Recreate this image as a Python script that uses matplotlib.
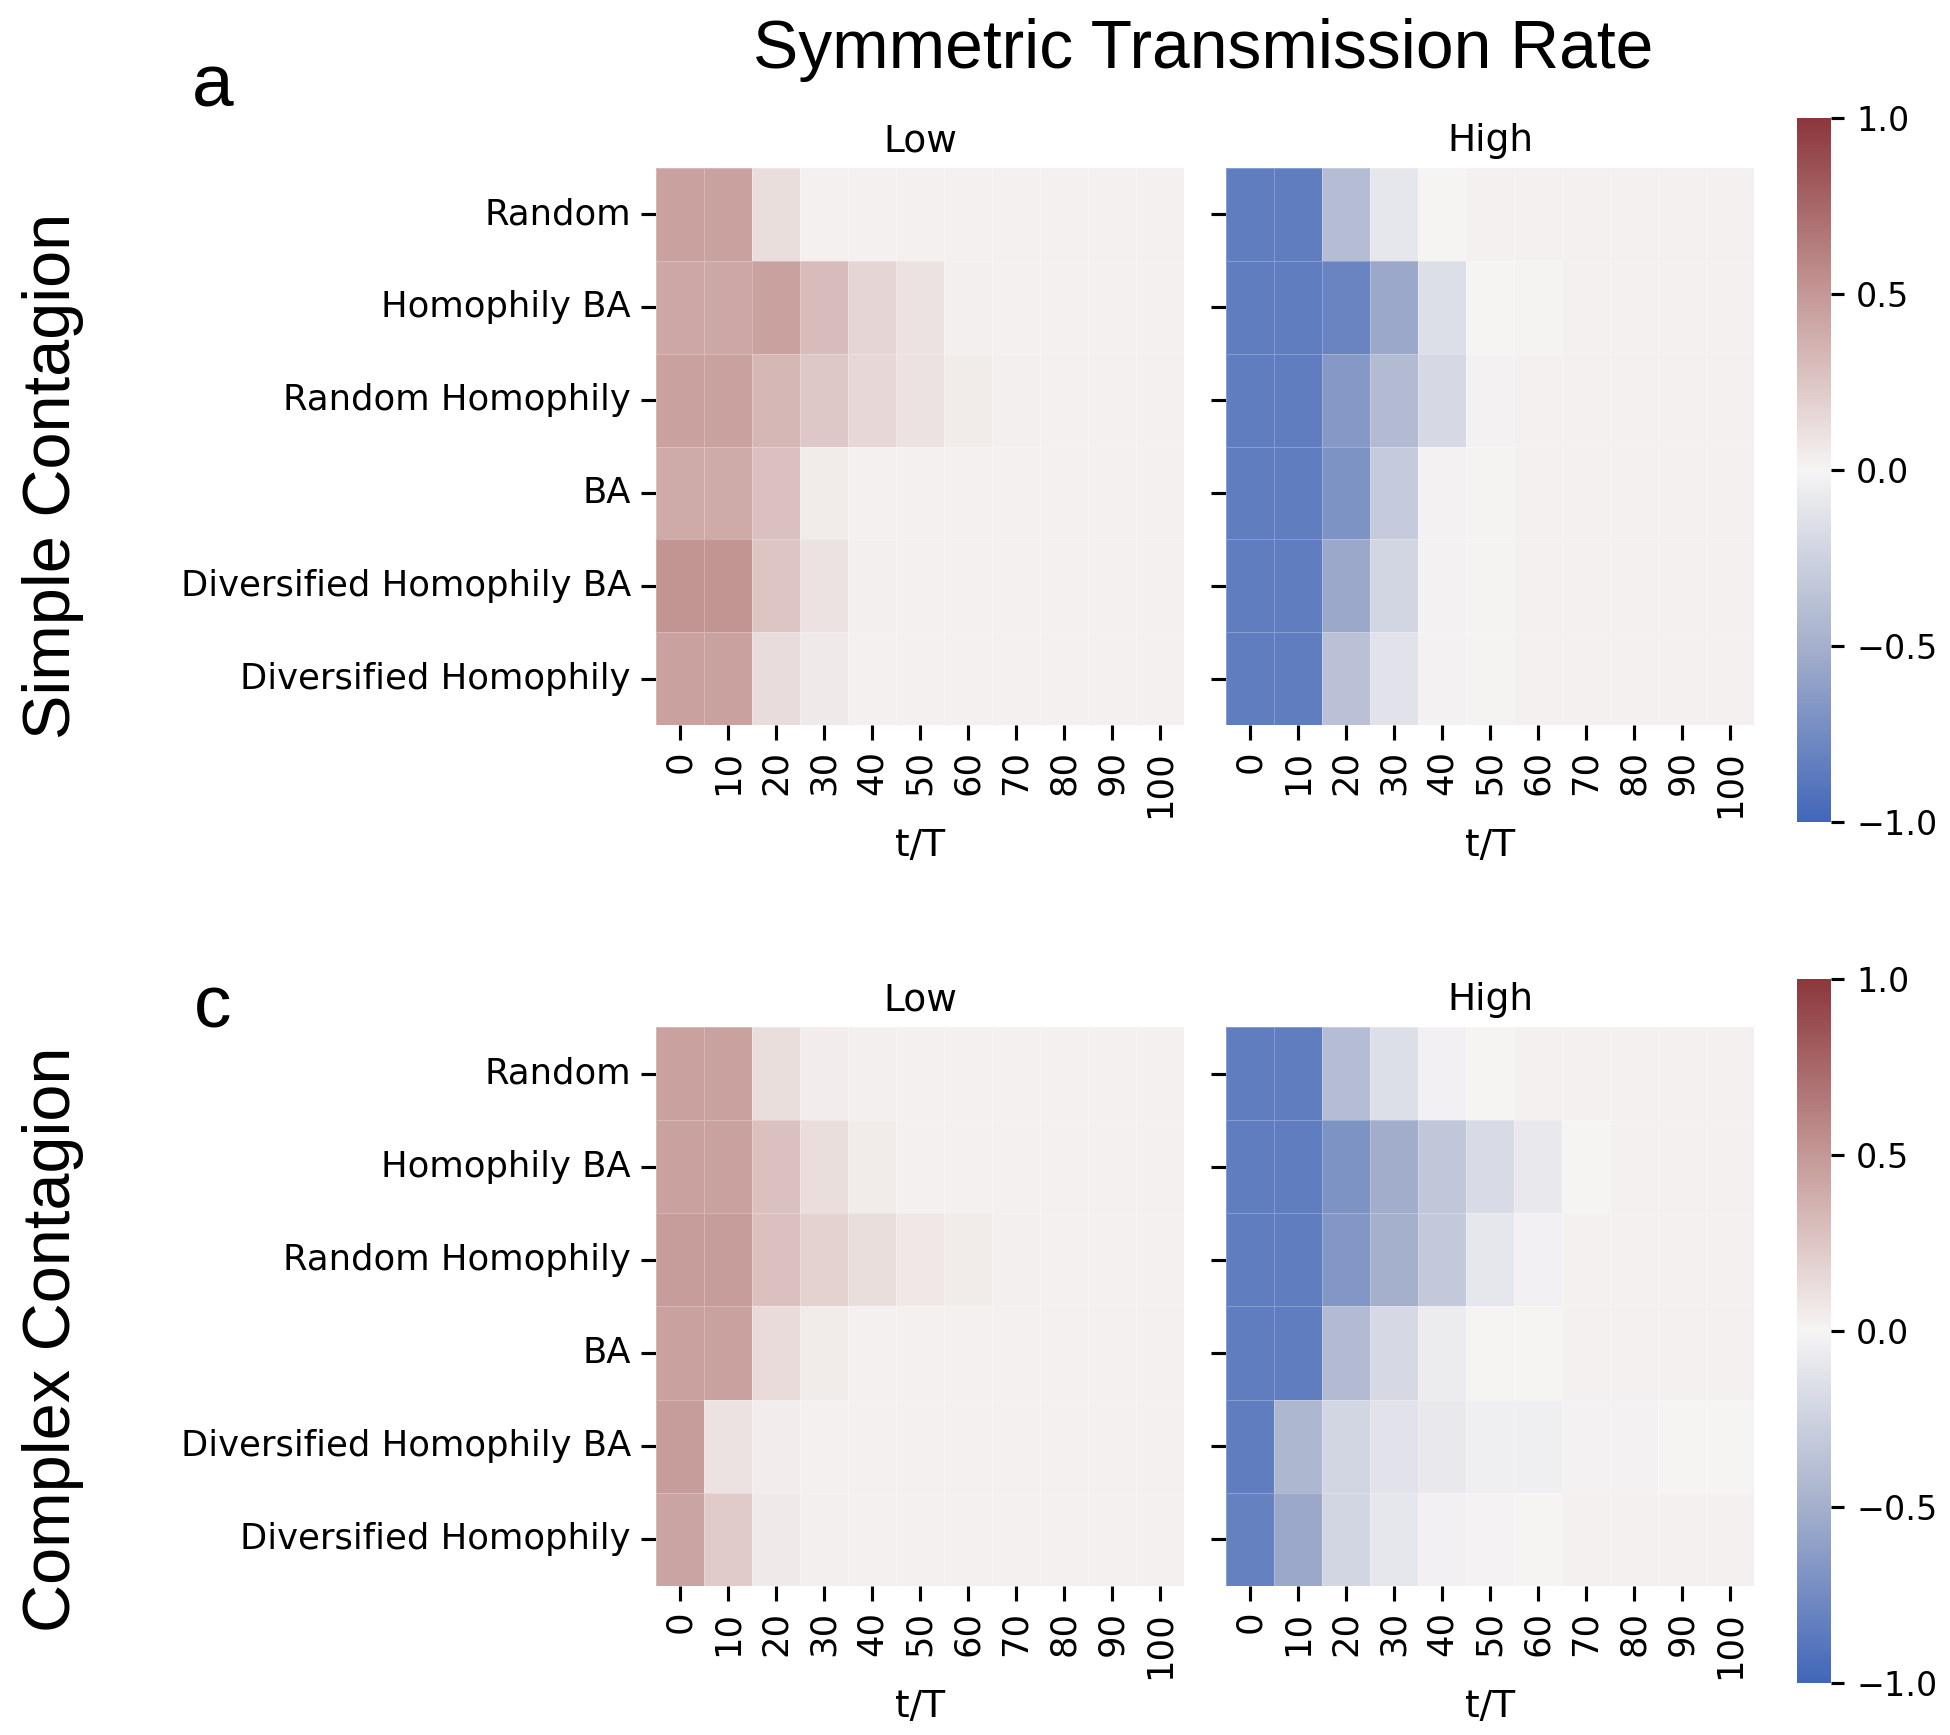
import numpy as np
import matplotlib
matplotlib.use("Agg")
import matplotlib.pyplot as plt
import seaborn as sns
from matplotlib.colors import LinearSegmentedColormap

sns.set_theme(style="ticks", font_scale=1.5)
plt.rcParams['font.family'] = ['DejaVu Sans']
plt.rcParams['text.color'] = 'black'
plt.rcParams['axes.labelcolor'] = 'black'
plt.rcParams['xtick.color'] = 'black'
plt.rcParams['ytick.color'] = 'black'

networks = ["Random", "Homophily BA", "Random Homophily", "BA",
            "Diversified Homophily BA", "Diversified Homophily"]
time_steps = ["0", "10", "20", "30", "40", "50", "60", "70", "80", "90", "100"]

# simple contagion
simple_low = [
    [0.45, 0.45, 0.12, 0.02, 0.02, 0.02, 0.02, 0.02, 0.02, 0.02, 0.02],
    [0.42, 0.42, 0.45, 0.30, 0.17, 0.10, 0.03, 0.02, 0.02, 0.02, 0.02],
    [0.45, 0.45, 0.33, 0.24, 0.15, 0.10, 0.05, 0.03, 0.02, 0.02, 0.02],
    [0.40, 0.40, 0.28, 0.05, 0.02, 0.02, 0.02, 0.02, 0.02, 0.02, 0.02],
    [0.52, 0.52, 0.25, 0.10, 0.03, 0.02, 0.02, 0.02, 0.02, 0.02, 0.02],
    [0.45, 0.45, 0.13, 0.06, 0.02, 0.02, 0.02, 0.02, 0.02, 0.02, 0.02],
]
simple_high = [
    [-0.85, -0.85, -0.40, -0.10, 0.00, 0.02, 0.02, 0.02, 0.02, 0.02, 0.02],
    [-0.85, -0.85, -0.80, -0.55, -0.15, 0.00, 0.01, 0.02, 0.02, 0.02, 0.02],
    [-0.85, -0.85, -0.65, -0.42, -0.20, -0.02, 0.02, 0.02, 0.02, 0.02, 0.02],
    [-0.85, -0.85, -0.70, -0.30, -0.02, 0.01, 0.02, 0.02, 0.02, 0.02, 0.02],
    [-0.85, -0.85, -0.55, -0.22, -0.02, 0.01, 0.02, 0.02, 0.02, 0.02, 0.02],
    [-0.85, -0.85, -0.37, -0.12, -0.02, 0.01, 0.02, 0.02, 0.02, 0.02, 0.02],
]

# complex contagion
complex_low = [
    [0.45, 0.45, 0.12, 0.04, 0.03, 0.02, 0.02, 0.02, 0.02, 0.02, 0.02],
    [0.45, 0.45, 0.28, 0.12, 0.05, 0.02, 0.02, 0.02, 0.02, 0.02, 0.02],
    [0.47, 0.47, 0.28, 0.18, 0.12, 0.07, 0.05, 0.03, 0.02, 0.02, 0.02],
    [0.45, 0.45, 0.14, 0.05, 0.02, 0.02, 0.02, 0.02, 0.02, 0.02, 0.02],
    [0.47, 0.10, 0.04, 0.02, 0.02, 0.02, 0.02, 0.02, 0.02, 0.02, 0.02],
    [0.43, 0.22, 0.06, 0.03, 0.02, 0.02, 0.02, 0.02, 0.02, 0.02, 0.02],
]
complex_high = [
    [-0.85, -0.85, -0.40, -0.15, -0.03, 0.00, 0.02, 0.02, 0.02, 0.02, 0.02],
    [-0.85, -0.85, -0.70, -0.52, -0.33, -0.18, -0.08, 0.00, 0.02, 0.02, 0.02],
    [-0.85, -0.85, -0.67, -0.50, -0.32, -0.10, -0.03, 0.02, 0.02, 0.02, 0.02],
    [-0.85, -0.85, -0.42, -0.20, -0.06, 0.00, 0.00, 0.02, 0.02, 0.02, 0.02],
    [-0.85, -0.45, -0.22, -0.12, -0.08, -0.04, -0.04, -0.02, -0.02, 0.00, 0.00],
    [-0.82, -0.55, -0.22, -0.10, -0.03, -0.01, 0.00, 0.02, 0.02, 0.02, 0.02],
]

cmap = LinearSegmentedColormap.from_list("tr", [
    (0.0, (66/255, 103/255, 185/255)),
    (0.25, (165/255, 176/255, 204/255)),
    (0.5, (246/255, 244/255, 244/255)),
    (0.75, (196/255, 152/255, 150/255)),
    (1.0, (140/255, 55/255, 60/255)),
])

fig = plt.figure(figsize=(13, 11.5667), dpi=150)

rows = [
    (simple_low, simple_high, 0.582, 0.9032, 0.526, 0.932),
    (complex_low, complex_high, 0.086, 0.408, 0.030, 0.436),
]
lefts = [0.3364, 0.6287]
width = 0.2708

for (low, high, bot, top, cb_bot, cb_top) in rows:
    cax = fig.add_axes([0.9215, cb_bot, 0.0175, cb_top - cb_bot])
    for j, (vals, name) in enumerate([(low, "Low"), (high, "High")]):
        ax = fig.add_axes([lefts[j], bot, width, top - bot])
        sns.heatmap(np.array(vals), ax=ax, cmap=cmap, vmin=-1, vmax=1,
                    xticklabels=time_steps, yticklabels=networks,
                    linewidths=0.4, linecolor=(1, 1, 1, 0.25),
                    cbar=(j == 1), cbar_ax=cax if j == 1 else None)
        ax.set_title(name, fontsize=18, pad=8)
        ax.set_xlabel("t/T", fontsize=18, labelpad=5)
        ax.tick_params(axis="x", rotation=90, labelsize=17, length=7, width=1.5, pad=5)
        ax.tick_params(axis="y", rotation=0, labelsize=17, length=7, width=1.5, pad=5)
        if j == 1:
            ax.set_yticklabels([])
    cax.tick_params(labelsize=16, length=6, width=1.5, pad=6)
    cax.set_yticks([-1.0, -0.5, 0.0, 0.5, 1.0])
    cax.set_yticklabels(["\u22121.0", "\u22120.5", "0.0", "0.5", "1.0"])
    for s in cax.spines.values():
        s.set_visible(False)

fig.text(0.617, 0.971, "Symmetric Transmission Rate", ha="center", va="center",
         fontsize=32.5, family="Liberation Sans")
fig.text(0.109, 0.95, "a", ha="center", va="center", fontsize=36, family="Liberation Sans")
fig.text(0.109, 0.419, "c", ha="center", va="center", fontsize=36, family="Liberation Sans")
fig.text(0.027, 0.726, "Simple Contagion", rotation=90, ha="center", va="center",
         fontsize=32, family="Liberation Sans")
fig.text(0.027, 0.228, "Complex Contagion", rotation=90, ha="center", va="center",
         fontsize=32, family="Liberation Sans")

fig.savefig("out.png", dpi=150)
